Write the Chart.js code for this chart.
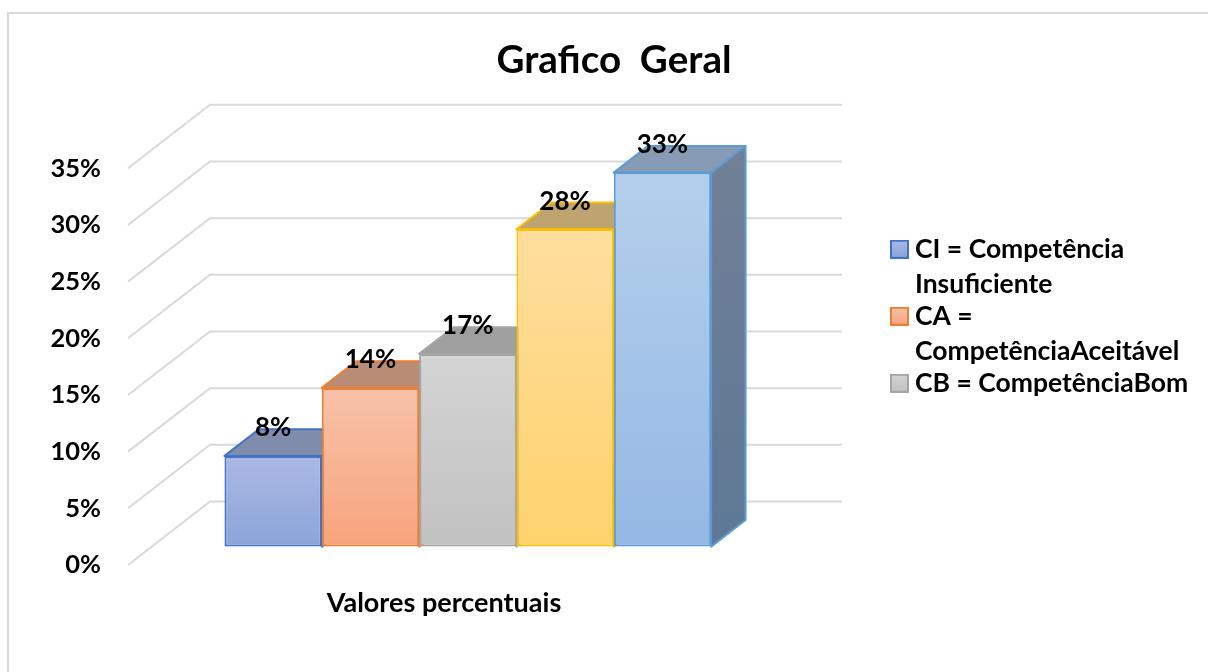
<!DOCTYPE html>
<html>
<head>
<meta charset="utf-8">
<style>
html,body{margin:0;padding:0;background:#fff;overflow:hidden}
#wrap{position:relative;width:1208px;height:672px}
#frame{position:absolute;left:7px;top:12px;right:0;bottom:0;border-left:2px solid #D9D9D9;border-top:2px solid #D9D9D9;pointer-events:none}
canvas{position:absolute;left:0;top:0}
</style>
<script src="https://cdn.jsdelivr.net/npm/chart.js@4"></script>
</head>
<body>
<div id="wrap"><div id="frame"></div><canvas id="c" width="1208" height="672"></canvas></div>
<script>
const categories = ['Valores percentuais'];
const seriesNames = ['CI = Competência Insuficiente','CA = CompetênciaAceitável','CB = CompetênciaBom','Competência Muito Bom','Competência Excelente'];
const seriesValues = [8, 14, 17, 28, 33];
const yTicks = [0, 5, 10, 15, 20, 25, 30, 35];
const titleText = 'Grafico  Geral';
const legendLines = [['CI = Competência','Insuficiente'],['CA =','CompetênciaAceitável'],['CB = CompetênciaBom']];
const borderColors = ['#4472C4','#ED7D31','#A5A5A5','#FFC000','#5B9BD5'];
const frontTop = ['#ABB9E3','#F7C2AA','#D4D4D4','#FFDE9E','#B4CFEC'];
const frontBottom = ['#8AA4DA','#F7A47C','#C1C1C1','#FFD26C','#94B8E4'];
const topFaces = ['#7F8CAB','#B98C76','#9F9F9F','#BFA46F','#879CB4'];
const sideTop = ['#6E7F96','#9A6F58','#808080','#A58A52','#718096'];
const sideBottom = ['#5E7895','#9A6F58','#808080','#A58A52','#5E7895'];

const DEPTH = {x: 82, y: -63.5};
const BAR_FRONT = 0.29, BAR_BACK = 0.71;
const FONT = 'Lato, Carlito, sans-serif';

function swatch(i){
  const s = document.createElement('canvas');
  s.width = 19; s.height = 19;
  const g = s.getContext('2d');
  const gr = g.createLinearGradient(0,0,0,19);
  gr.addColorStop(0, frontTop[i]); gr.addColorStop(1, frontBottom[i]);
  g.fillStyle = gr; g.fillRect(0,0,19,19);
  g.strokeStyle = borderColors[i]; g.lineWidth = 2; g.strokeRect(1,1,17,17);
  return s;
}

const bars3d = {
  id: 'bars3d',
  afterLayout(chart){
    const t = chart.titleBlock;
    t.left = 0; t.right = 1228;
    const l = chart.legend;
    l.left = 900.25; l.right = 1208; l.top = 239; l.bottom = 672; l.width = 308; l.height = 433;
    l.draw = function(){ this._draw(); };
  },
  beforeDatasetsDraw(chart){
    const ctx = chart.ctx, y = chart.scales.y, a = chart.chartArea;
    ctx.save();
    ctx.strokeStyle = '#D9D9D9'; ctx.lineWidth = 2;
    y.ticks.forEach((t,i)=>{
      const py = y.getPixelForTick(i);
      ctx.beginPath();
      ctx.moveTo(a.left, py);
      ctx.lineTo(a.left + DEPTH.x, py + DEPTH.y);
      ctx.lineTo(a.right + DEPTH.x, py + DEPTH.y);
      ctx.stroke();
    });
    const fx = DEPTH.x*BAR_FRONT, fy = DEPTH.y*BAR_FRONT;
    const bx = DEPTH.x*BAR_BACK, by = DEPTH.y*BAR_BACK;
    seriesValues.forEach((v,i)=>{
      const el = chart.getDatasetMeta(i).data[0];
      const w = el.width/2, l = el.x-w+fx, r = el.x+w+fx, top = el.y+fy, bot = el.base+fy;
      const ox = bx-fx, oy = by-fy;
      ctx.lineWidth = 2; ctx.strokeStyle = borderColors[i]; ctx.lineJoin = 'round';
      const sg = ctx.createLinearGradient(0,top+oy,0,bot);
      sg.addColorStop(0, sideTop[i]); sg.addColorStop(1, sideBottom[i]);
      ctx.fillStyle = sg;
      ctx.beginPath();
      ctx.moveTo(r,top); ctx.lineTo(r+ox,top+oy); ctx.lineTo(r+ox,bot+oy); ctx.lineTo(r,bot); ctx.closePath();
      ctx.fill(); ctx.stroke();
      ctx.fillStyle = topFaces[i];
      ctx.beginPath();
      ctx.moveTo(l,top); ctx.lineTo(l+ox,top+oy); ctx.lineTo(r+ox,top+oy); ctx.lineTo(r,top); ctx.closePath();
      ctx.fill(); ctx.stroke();
    });
    ctx.restore();
    ctx.save();
    ctx.translate(fx, fy);
  },
  afterDatasetsDraw(chart){
    const ctx = chart.ctx;
    ctx.restore();
    const fx = DEPTH.x*BAR_FRONT, fy = DEPTH.y*BAR_FRONT;
    ctx.save();
    ctx.fillStyle = '#000';
    ctx.font = 'bold 26px ' + FONT;
    ctx.textAlign = 'center'; ctx.textBaseline = 'middle';
    seriesValues.forEach((v,i)=>{
      const el = chart.getDatasetMeta(i).data[0];
      ctx.fillText(v + '%', el.x + fx, el.y + fy - 28);
    });
    ctx.restore();
  }
};

new Chart(document.getElementById('c'), {
  type: 'bar',
  data: {
    labels: categories,
    datasets: seriesValues.map((v,i)=>({
      label: seriesNames[i],
      data: [v],
      categoryPercentage: 0.77,
      barPercentage: 1,
      borderWidth: 2,
      borderSkipped: false,
      borderColor: borderColors[i],
      clip: false,
      backgroundColor(c){
        const ch = c.chart;
        if(!ch.chartArea) return frontBottom[i];
        const y = ch.scales.y;
        const g = ch.ctx.createLinearGradient(0,y.getPixelForValue(v),0,y.getPixelForValue(0));
        g.addColorStop(0, frontTop[i]); g.addColorStop(1, frontBottom[i]);
        return g;
      }
    }))
  },
  options: {
    responsive: false,
    animation: false,
    events: [],
    layout: {padding: {left: 0, right: 448, top: 0, bottom: 0}},
    plugins: {
      tooltip: {enabled: false},
      title: {
        display: true, text: titleText, color: '#000',
        font: {family: FONT, size: 38.6, weight: 'bold', lineHeight: 1.2},
        padding: {top: 37, bottom: 85}
      },
      legend: {
        display: true, position: 'chartArea', align: 'start',
        labels: {
          color: '#000',
          font: {family: FONT, size: 26.5, weight: 'bold', lineHeight: 35/26.5},
          usePointStyle: true, pointStyleWidth: 4.5, boxHeight: 19, padding: -3,
          generateLabels(){
            return legendLines.map((t,i)=>({
              text: t, pointStyle: swatch(i), fillStyle: frontBottom[i], strokeStyle: borderColors[i],
              lineWidth: 0, fontColor: '#000', datasetIndex: i, hidden: false
            }));
          }
        }
      }
    },
    scales: {
      x: {
        grid: {display: false, drawTicks: false},
        border: {display: false},
        afterFit(s){ s.height = 107; },
        ticks: {color: '#000', padding: 22, maxRotation: 0, font: {family: FONT, size: 27, weight: 'bold'}}
      },
      y: {
        min: 0, max: 35,
        afterBuildTicks(s){ s.ticks = yTicks.map(v=>({value: v})); },
        afterFit(s){ s.width = 128; },
        grid: {display: false, drawTicks: false},
        border: {display: false},
        ticks: {color: '#000', padding: 27, callback: v => v + '%', font: {family: FONT, size: 25.5, weight: 'bold'}}
      }
    }
  },
  plugins: [bars3d]
});
</script>
</body>
</html>
